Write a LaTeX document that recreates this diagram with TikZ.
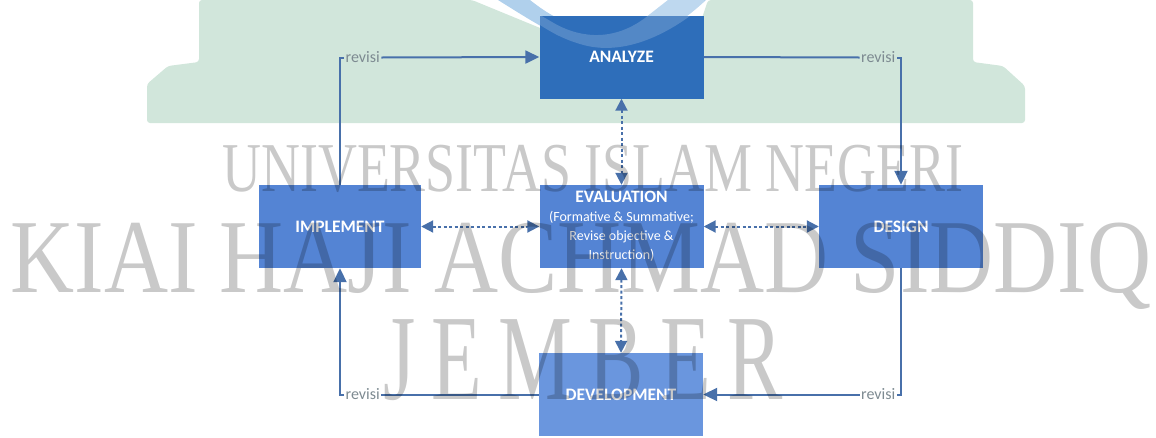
\documentclass[tikz,border=0pt]{standalone}
\usepackage{fontspec}
\usepackage{graphicx}
\usepackage{tikz}
\usetikzlibrary{arrows.meta}
\setmainfont{Carlito}
\newfontfamily\wmfont{Liberation Serif}
\newcommand\evalsub{\mdseries\fontsize{14}{16}\selectfont}
\definecolor{boxblue}{RGB}{84,132,212}
\definecolor{topblue}{RGB}{46,110,186}
\definecolor{lowblue}{RGB}{106,150,222}
\definecolor{linkblue}{RGB}{72,112,170}
\definecolor{bandgreen}{RGB}{209,230,219}
\definecolor{logoblue}{RGB}{176,208,236}
\definecolor{revgray}{RGB}{125,138,145}
\begin{document}
\begin{tikzpicture}[x=1pt,y=-1pt]
        \tikzstyle{every node}=[inner sep=0pt]
        \tikzstyle{box}=[rectangle, fill=boxblue, text=white, minimum width=164pt, minimum height=83pt, align=center, font=\fontsize{17.5}{19}\selectfont\bfseries]
        \tikzstyle{rev}=[text=revgray, font=\fontsize{16}{16}\selectfont, inner xsep=1.5pt]
        \tikzstyle{link}=[draw=linkblue, line width=2pt]
        \tikzstyle{loop}=[link, -{Triangle[length=14pt,width=13pt]}]
        \tikzstyle{eval}=[draw=linkblue, line width=2pt, dash pattern=on 3pt off 2.5pt, {Triangle[length=12pt,width=12pt]}-{Triangle[length=12pt,width=12pt]}]
        \tikzstyle{wm}=[text=black, opacity=0.21, anchor=base]
        \useasboundingbox (0,0) rectangle (1156,437);
        % green band and logo of the watermark
        \fill[bandgreen, rounded corners=3pt] (199,0) -- (472,0) -- (545,30) -- (698,30) -- (708,0) -- (973,0) -- (973,62) -- (1003,66) -- (1025,86) -- (1025,123) -- (147,123) -- (147,84) -- (168,66) -- (199,62) -- cycle;
        \fill[logoblue] (498,0) -- (530,0) .. controls (565,28) and (605,42) .. (645,18) -- (668,0) -- (706,0) .. controls (672,32) and (625,58) .. (580,44) .. controls (555,36) and (530,20) .. cycle;
        % ADDIE boxes
        \node[box, fill=topblue] (analyze) at (621.5,57) {ANALYZE};
        \node[box, minimum width=162pt] (implement) at (340,226.5) {IMPLEMENT};
        \node[box] (evaluation) at (621.5,226.5) {EVALUATION\\\evalsub (Formative \& Summative;\\\evalsub Revise objective \&\\\evalsub Instruction)};
        \node[box] (design) at (901,226.5) {DESIGN};
        \node[box, fill=lowblue] (development) at (621,394.5) {DEVELOPMENT};
        \fill[white, opacity=0.18] (540,15) -- (552,22) .. controls (575,36) and (610,44) .. (645,18) -- (668,0) -- (704,0) -- (704,5) .. controls (672,32) and (625,58) .. (580,44) .. controls (560,38) and (548,30) .. (540,25) -- cycle;
        % revisi loop
        \node[rev, anchor=west] (revTL) at (344,57.5) {revisi};
        \node[rev, anchor=east] (revTR) at (897,57.5) {revisi};
        \node[rev, anchor=east] (revBR) at (897,394.5) {revisi};
        \node[rev, anchor=west] (revBL) at (344,394.5) {revisi};
        \draw[link] (implement.north) |- (revTL.west);
        \draw[loop] (revTL.east) -- (analyze.west);
        \draw[link] (analyze.east) -- (revTR.west);
        \draw[loop] (revTR.east) -| (design.north);
        \draw[link] (design.south) |- (revBR.east);
        \draw[loop] (revBR.west) -- (development.east);
        \draw[link] (development.west) -- (revBL.east);
        \draw[loop] (revBL.west) -| (implement.south);
        % evaluation to every phase
        \draw[eval] (analyze.south) -- (evaluation.north);
        \draw[eval] (evaluation.south) -- (development.north);
        \draw[eval] (implement.east) -- (evaluation.west);
        \draw[eval] (evaluation.east) -- (design.west);
        % watermark text
        \node[wm, font=\wmfont\fontsize{70}{70}\selectfont] (wmTop) at (593,191) {\scalebox{0.77}[1]{UNIVERSITAS ISLAM NEGERI}};
        \node[wm, font=\wmfont\fontsize{105}{105}\selectfont] (wmMid) at (581,292) {\scalebox{0.845}[1]{KIAI HAJI ACHMAD SIDDIQ}};
        \node[wm, font=\wmfont\fontsize{122}{122}\selectfont] (wmLow) at (583,399) {\scalebox{0.68}[1]{J\hspace{24pt}E\hspace{24pt}M\hspace{24pt}B\hspace{24pt}E\hspace{24pt}R}};
\end{tikzpicture}
\end{document}
